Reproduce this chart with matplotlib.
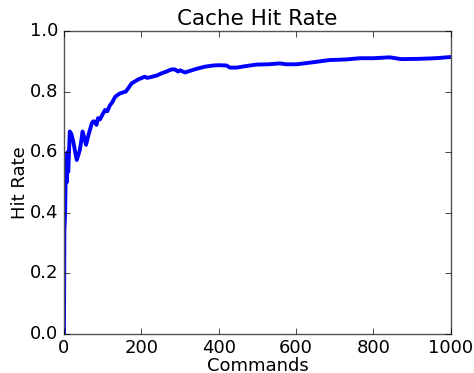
import matplotlib
matplotlib.use('Agg')
import matplotlib.pyplot as plt

# ─── Data ────────────────────────────────────────────────────────────────────

commands = [0, 1, 3, 5, 7, 9, 11, 15, 19, 24, 29, 33, 37, 41, 45, 48, 52, 57,
            64, 72, 76, 80, 84, 88, 93, 100, 106, 112, 119, 125, 132, 140,
            145, 160, 175, 192, 209, 215, 222, 240, 252, 265, 278, 287, 295,
            300, 313, 340, 364, 386, 400, 420, 429, 446, 470, 498, 530, 558,
            575, 601, 640, 687, 730, 765, 800, 842, 872, 920, 960, 1000]
hit_rate = [0.0, 0.34, 0.40, 0.58, 0.50, 0.60, 0.535, 0.668, 0.66, 0.635,
            0.60, 0.574, 0.59, 0.607, 0.64, 0.668, 0.65, 0.624, 0.66, 0.695,
            0.702, 0.70, 0.69, 0.712, 0.708, 0.725, 0.739, 0.735, 0.755, 0.765,
            0.782, 0.79, 0.794, 0.80, 0.827, 0.84, 0.849, 0.845, 0.847, 0.853,
            0.86, 0.866, 0.873, 0.873, 0.866, 0.870, 0.863, 0.874, 0.882,
            0.886, 0.887, 0.886, 0.879, 0.879, 0.884, 0.889, 0.890, 0.893,
            0.890, 0.890, 0.896, 0.904, 0.906, 0.910, 0.910, 0.913, 0.907,
            0.908, 0.910, 0.914]

# ─── Figure ──────────────────────────────────────────────────────────────────

plt.style.use('classic')
fig = plt.figure(figsize=(4.74, 3.73), dpi=100, facecolor='white')
ax = fig.add_axes([0.135, 0.105, 0.816, 0.812])

ax.plot(commands, hit_rate, color='#0000ff', linewidth=2.8)

ax.set_xlim(0, 1000)
ax.set_ylim(0, 1.0)
ax.set_xticks([0, 200, 400, 600, 800, 1000])
ax.set_yticks([0.0, 0.2, 0.4, 0.6, 0.8, 1.0])
ax.tick_params(labelsize=13)
for sp in ax.spines.values():
    sp.set_color('#555555')

ax.set_title('Cache Hit Rate', fontsize=15.5, pad=4)
ax.set_xlabel('Commands', fontsize=13, labelpad=0)
ax.set_ylabel('Hit Rate', fontsize=13, labelpad=1)

fig.savefig('out.png', dpi=100, facecolor='white')
